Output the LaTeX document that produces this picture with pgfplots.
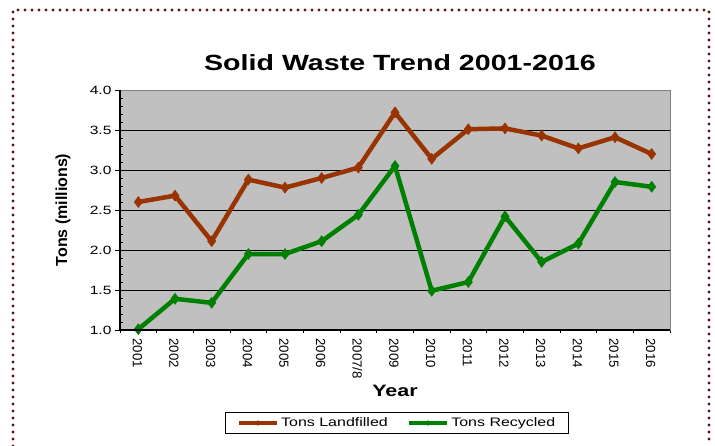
\documentclass[border=0pt]{standalone}
\usepackage{pgfplots}
\pgfplotsset{compat=1.18}
\usepackage{fontspec}
\setmainfont{Liberation Sans}
\newfontfamily\wide{Liberation Sans}[FakeStretch=1.3]
\definecolor{landc}{RGB}{153,51,0}
\definecolor{recc}{RGB}{0,128,0}
\definecolor{bggray}{RGB}{192,192,192}
\definecolor{dotc}{RGB}{100,16,16}
\begin{document}
\begin{tikzpicture}
\useasboundingbox (0pt,0pt) rectangle (715pt,-446pt);
\draw[dotc, line width=3.2pt, line cap=round, dash pattern=on 0pt off 7pt]
  (13pt,-446pt) -- (13pt,-10pt) -- (709pt,-10pt) -- (709pt,-446pt);
\begin{axis}[
  at={(120pt,-330pt)}, anchor=south west,
  scale only axis, width=550pt, height=240pt,
  xmin=-0.5, xmax=14.5, ymin=1, ymax=4,
  axis background/.style={fill=bggray},
  axis line style={draw={rgb,255:red,128;green,128;blue,128}, line width=0.8pt},
  xtick={0,...,14},
  xticklabels={2001,2002,2003,2004,2005,2006,2007/8,2009,2010,2011,2012,2013,2014,2015,2016},
  minor xtick={-0.5,0.5,...,14.5},
  major x tick style={draw=none},
  minor x tick style={black, line width=1pt},
  x tick label style={rotate=-90, anchor=west, font=\fontsize{13.2}{15}\selectfont, yshift=-1pt},
  ytick={1,1.5,...,4},
  minor y tick num=4,
  major y tick style={black, line width=1pt},
  minor y tick style={black, line width=1pt, xshift=3pt},
  tick align=outside,
  major tick length=5pt, minor tick length=3pt,
  xtick pos=bottom, ytick pos=left,
  ymajorgrids, grid style={black, line width=0.9pt},
  y tick label style={font=\wide\fontsize{12}{14}\selectfont,
    /pgf/number format/fixed, /pgf/number format/fixed zerofill,
    /pgf/number format/precision=1, /pgf/number format/assume math mode=true},
  title={Solid Waste Trend 2001-2016},
  title style={at={(axis description cs:0.509,1.09)}, anchor=center, font=\wide\bfseries\fontsize{22}{26}\selectfont},
  xlabel={Year},
  xlabel style={at={(axis description cs:0.5,-0.254)}, anchor=center, font=\wide\bfseries\fontsize{16.5}{18}\selectfont},
  ylabel={Tons (millions)},
  ylabel style={at={(axis description cs:-0.1036,0.5)}, anchor=center, rotate=0, font=\bfseries\fontsize{16}{18}\selectfont},
  legend columns=2,
  legend style={at={(axis description cs:0.5036,-0.3875)}, anchor=center, draw=black, line width=0.8pt,
    font=\wide\fontsize{12.3}{14}\selectfont, inner xsep=11pt, inner ysep=3.5pt},
  legend image code/.code={\draw[mark repeat=2,mark phase=2,#1,mark size=2.5pt] plot coordinates {(0pt,0pt) (19pt,0pt) (38pt,0pt)};},
  /tikz/every even column/.append style={column sep=17pt},
  legend cell align=left,
]
\addplot[landc, line width=4.5pt, mark=diamond*, mark size=5.5pt, mark options={solid, line width=0.5pt}] coordinates {
 (0,2.60) (1,2.68) (2,2.11) (3,2.88) (4,2.78) (5,2.90) (6,3.03) (7,3.72)
 (8,3.14) (9,3.51) (10,3.52) (11,3.43) (12,3.27) (13,3.41) (14,3.20)};
\addlegendentry{Tons Landfilled}
\addplot[recc, line width=4.5pt, mark=diamond*, mark size=5.5pt, mark options={solid, line width=0.5pt}] coordinates {
 (0,1.01) (1,1.39) (2,1.34) (3,1.95) (4,1.95) (5,2.11) (6,2.44) (7,3.05)
 (8,1.49) (9,1.60) (10,2.42) (11,1.85) (12,2.08) (13,2.85) (14,2.79)};
\addlegendentry{Tons Recycled}
\end{axis}
\draw[black, line width=2pt] (current axis.north west) -- (current axis.south west) -- (current axis.south east);
\end{tikzpicture}
\end{document}
